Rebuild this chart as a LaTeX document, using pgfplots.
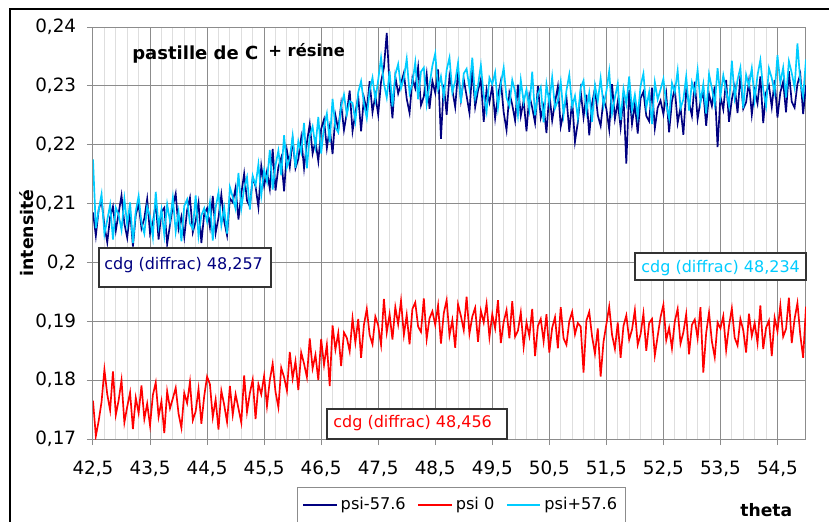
\documentclass[border=0pt]{standalone}
\usepackage{pgfplots}
\usepackage{pgfplotstable}
\pgfplotsset{compat=1.18}
\usepackage{fontspec}
\setmainfont{DejaVu Sans}

\definecolor{navyc}{HTML}{000080}
\definecolor{cyanc}{HTML}{00CCFF}
\definecolor{redc}{HTML}{FF0000}
\definecolor{gridmaj}{RGB}{140,140,140}
\definecolor{gridmin}{RGB}{222,222,222}

% theta, psi-57.6, psi 0, psi+57.6
\pgfplotstableread{
x navy red cyan
42.50 0.2085 0.1765 0.2175
42.55 0.2045 0.1705 0.2058
42.60 0.2090 0.1731 0.2089
42.65 0.2105 0.1763 0.2116
42.70 0.2063 0.1818 0.2048
42.75 0.2034 0.1776 0.2072
42.80 0.2077 0.1749 0.2098
42.85 0.2095 0.1815 0.2039
42.90 0.2054 0.1741 0.2093
42.95 0.2084 0.1766 0.2081
43.00 0.2114 0.1800 0.2055
43.05 0.2066 0.1728 0.2108
43.10 0.2042 0.1755 0.2064
43.15 0.2087 0.1779 0.2102
43.20 0.2027 0.1717 0.2033
43.25 0.2081 0.1770 0.2087
43.30 0.2099 0.1744 0.2113
43.35 0.2058 0.1791 0.2067
43.40 0.2075 0.1734 0.2049
43.45 0.2108 0.1760 0.2095
43.50 0.2049 0.1723 0.2078
43.55 0.2067 0.1775 0.2043
43.60 0.2102 0.1796 0.2120
43.65 0.2039 0.1738 0.2061
43.70 0.2086 0.1764 0.2090
43.75 0.2093 0.1710 0.2046
43.80 0.2031 0.1781 0.2099
43.85 0.2064 0.1752 0.2070
43.90 0.2096 0.1769 0.2110
43.95 0.2117 0.1787 0.2052
44.00 0.2057 0.1743 0.2086
44.05 0.2078 0.1719 0.2036
44.10 0.2043 0.1778 0.2096
44.15 0.2089 0.1761 0.2107
44.20 0.2110 0.1797 0.2066
44.25 0.2051 0.1732 0.2057
44.30 0.2070 0.1747 0.2114
44.35 0.2101 0.1785 0.2045
44.40 0.2033 0.1726 0.2080
44.45 0.2083 0.1773 0.2092
44.50 0.2092 0.1806 0.2069
44.55 0.2060 0.1793 0.2102
44.60 0.2113 0.1737 0.2037
44.65 0.2050 0.1767 0.2093
44.70 0.2076 0.1716 0.2119
44.75 0.2115 0.1782 0.2063
44.80 0.2070 0.1758 0.2093
44.85 0.2046 0.1729 0.2049
44.90 0.2109 0.1790 0.2128
44.95 0.2102 0.1741 0.2111
45.00 0.2127 0.1776 0.2091
45.05 0.2073 0.1752 0.2152
45.10 0.2117 0.1728 0.2092
45.15 0.2151 0.1808 0.2126
45.20 0.2105 0.1746 0.2145
45.25 0.2095 0.1778 0.2090
45.30 0.2144 0.1801 0.2147
45.35 0.2129 0.1734 0.2131
45.40 0.2094 0.1793 0.2167
45.45 0.2164 0.1776 0.2114
45.50 0.2130 0.1807 0.2157
45.55 0.2155 0.1756 0.2137
45.60 0.2125 0.1800 0.2191
45.65 0.2193 0.1828 0.2124
45.70 0.2122 0.1780 0.2165
45.75 0.2162 0.1754 0.2190
45.80 0.2178 0.1821 0.2148
45.85 0.2121 0.1805 0.2216
45.90 0.2190 0.1782 0.2162
45.95 0.2162 0.1848 0.2177
46.00 0.2209 0.1803 0.2215
46.05 0.2160 0.1832 0.2161
46.10 0.2176 0.1783 0.2206
46.15 0.2212 0.1847 0.2187
46.20 0.2160 0.1828 0.2237
46.25 0.2204 0.1805 0.2160
46.30 0.2235 0.1871 0.2215
46.35 0.2185 0.1820 0.2231
46.40 0.2206 0.1843 0.2197
46.45 0.2172 0.1800 0.2247
46.50 0.2227 0.1870 0.2185
46.55 0.2243 0.1826 0.2231
46.60 0.2194 0.1860 0.2253
46.65 0.2229 0.1790 0.2204
46.70 0.2184 0.1893 0.2278
46.75 0.2250 0.1852 0.2229
46.80 0.2226 0.1880 0.2221
46.85 0.2269 0.1824 0.2265
46.90 0.2225 0.1881 0.2285
46.95 0.2254 0.1872 0.2251
47.00 0.2292 0.1849 0.2274
47.05 0.2223 0.1905 0.2271
47.10 0.2254 0.1864 0.2240
47.15 0.2282 0.1904 0.2289
47.20 0.2223 0.1838 0.2308
47.25 0.2280 0.1894 0.2270
47.30 0.2258 0.1921 0.2245
47.35 0.2308 0.1877 0.2292
47.40 0.2255 0.1861 0.2314
47.45 0.2284 0.1908 0.2276
47.50 0.2251 0.1893 0.2310
47.55 0.2307 0.1860 0.2348
47.60 0.2331 0.1938 0.2304
47.65 0.2390 0.1881 0.2280
47.70 0.2299 0.1912 0.2325
47.75 0.2245 0.1869 0.2265
47.80 0.2316 0.1924 0.2319
47.85 0.2287 0.1895 0.2337
47.90 0.2304 0.1935 0.2296
47.95 0.2322 0.1877 0.2313
48.00 0.2278 0.1911 0.2346
48.05 0.2254 0.1861 0.2287
48.10 0.2313 0.1921 0.2305
48.15 0.2296 0.1932 0.2340
48.20 0.2332 0.1891 0.2277
48.25 0.2267 0.1882 0.2324
48.30 0.2282 0.1939 0.2331
48.35 0.2320 0.1870 0.2269
48.40 0.2261 0.1905 0.2302
48.45 0.2308 0.1917 0.2334
48.50 0.2288 0.1894 0.2355
48.55 0.2328 0.1927 0.2295
48.60 0.2210 0.1862 0.2316
48.65 0.2302 0.1914 0.2281
48.70 0.2251 0.1936 0.2327
48.75 0.2317 0.1876 0.2348
48.80 0.2293 0.1902 0.2289
48.85 0.2264 0.1855 0.2308
48.90 0.2325 0.1929 0.2339
48.95 0.2276 0.1909 0.2271
49.00 0.2311 0.1885 0.2321
49.05 0.2283 0.1942 0.2329
49.10 0.2254 0.1879 0.2296
49.15 0.2330 0.1908 0.2348
49.20 0.2264 0.1923 0.2279
49.25 0.2292 0.1865 0.2301
49.30 0.2311 0.1918 0.2335
49.35 0.2239 0.1898 0.2284
49.40 0.2294 0.1930 0.2256
49.45 0.2272 0.1873 0.2314
49.50 0.2300 0.1912 0.2303
49.55 0.2245 0.1888 0.2323
49.60 0.2284 0.1936 0.2263
49.65 0.2308 0.1863 0.2303
49.70 0.2255 0.1899 0.2331
49.75 0.2225 0.1919 0.2280
49.80 0.2288 0.1871 0.2266
49.85 0.2268 0.1934 0.2310
49.90 0.2241 0.1874 0.2290
49.95 0.2302 0.1884 0.2250
50.00 0.2249 0.1915 0.2310
50.05 0.2275 0.1857 0.2272
50.10 0.2223 0.1898 0.2294
50.15 0.2284 0.1875 0.2260
50.20 0.2263 0.1921 0.2324
50.25 0.2237 0.1841 0.2250
50.30 0.2300 0.1892 0.2286
50.35 0.2246 0.1904 0.2298
50.40 0.2266 0.1866 0.2238
50.45 0.2220 0.1912 0.2303
50.50 0.2288 0.1847 0.2271
50.55 0.2241 0.1889 0.2315
50.60 0.2272 0.1907 0.2262
50.65 0.2299 0.1854 0.2275
50.70 0.2231 0.1924 0.2307
50.75 0.2255 0.1871 0.2251
50.80 0.2281 0.1860 0.2292
50.85 0.2222 0.1900 0.2319
50.90 0.2276 0.1916 0.2265
50.95 0.2205 0.1878 0.2283
51.00 0.2238 0.1897 0.2245
51.05 0.2291 0.1891 0.2297
51.10 0.2247 0.1813 0.2309
51.15 0.2285 0.1901 0.2256
51.20 0.2216 0.1916 0.2288
51.25 0.2270 0.1874 0.2239
51.30 0.2296 0.1845 0.2301
51.35 0.2250 0.1888 0.2274
51.40 0.2232 0.1806 0.2313
51.45 0.2278 0.1865 0.2266
51.50 0.2261 0.1895 0.2291
51.55 0.2226 0.1925 0.2325
51.60 0.2303 0.1877 0.2253
51.65 0.2244 0.1853 0.2280
51.70 0.2273 0.1898 0.2304
51.75 0.2229 0.1838 0.2242
51.80 0.2282 0.1892 0.2295
51.85 0.2168 0.1910 0.2269
51.90 0.2293 0.1869 0.2316
51.95 0.2235 0.1886 0.2259
52.00 0.2269 0.1919 0.2285
52.05 0.2219 0.1860 0.2248
52.10 0.2279 0.1878 0.2300
52.15 0.2290 0.1913 0.2321
52.20 0.2249 0.1850 0.2263
52.25 0.2240 0.1897 0.2289
52.30 0.2297 0.1904 0.2235
52.35 0.2228 0.1842 0.2306
52.40 0.2263 0.1875 0.2277
52.45 0.2275 0.1907 0.2294
52.50 0.2252 0.1928 0.2312
52.55 0.2286 0.1868 0.2269
52.60 0.2221 0.1889 0.2245
52.65 0.2274 0.1854 0.2305
52.70 0.2296 0.1900 0.2289
52.75 0.2237 0.1921 0.2326
52.80 0.2264 0.1862 0.2262
52.85 0.2217 0.1881 0.2277
52.90 0.2292 0.1912 0.2316
52.95 0.2272 0.1844 0.2258
53.00 0.2249 0.1894 0.2306
53.05 0.2307 0.1903 0.2287
53.10 0.2244 0.1871 0.2327
53.15 0.2274 0.1924 0.2272
53.20 0.2289 0.1813 0.2303
53.25 0.2232 0.1880 0.2253
53.30 0.2286 0.1915 0.2320
53.35 0.2266 0.1866 0.2296
53.40 0.2299 0.1839 0.2268
53.45 0.2196 0.1898 0.2330
53.50 0.2282 0.1888 0.2282
53.55 0.2260 0.1909 0.2318
53.60 0.2310 0.1851 0.2292
53.65 0.2239 0.1892 0.2266
53.70 0.2277 0.1922 0.2343
53.75 0.2299 0.1872 0.2280
53.80 0.2254 0.1859 0.2310
53.85 0.2318 0.1904 0.2331
53.90 0.2261 0.1885 0.2262
53.95 0.2272 0.1847 0.2319
54.00 0.2308 0.1913 0.2300
54.05 0.2251 0.1875 0.2330
54.10 0.2292 0.1897 0.2276
54.15 0.2270 0.1863 0.2318
54.20 0.2316 0.1927 0.2344
54.25 0.2237 0.1853 0.2294
54.30 0.2289 0.1889 0.2266
54.35 0.2301 0.1901 0.2330
54.40 0.2264 0.1841 0.2313
54.45 0.2310 0.1906 0.2288
54.50 0.2246 0.1883 0.2352
54.55 0.2289 0.1927 0.2305
54.60 0.2307 0.1874 0.2331
54.65 0.2255 0.1887 0.2280
54.70 0.2325 0.1940 0.2342
54.75 0.2273 0.1863 0.2322
54.80 0.2263 0.1904 0.2297
54.85 0.2303 0.1931 0.2372
54.90 0.2320 0.1877 0.2307
54.95 0.2252 0.1838 0.2282
55.00 0.2301 0.1925 0.2345
}\datatable

\begin{document}
\begin{tikzpicture}[x=0.6pt,y=0.6pt]
\useasboundingbox (0,0) rectangle (829,521);
% outer chart frame (cut by the picture edge on the right and bottom)
\draw[line width=1pt] (10,-20) -- (10,512) -- (850,512);

\begin{axis}[
  at={(55.8pt,49.2pt)}, anchor=south west,
  scale only axis, width=427.8pt, height=247.2pt,
  xmin=42.5, xmax=55, ymin=0.17, ymax=0.24,
  xtick={42.5,43.5,44.5,45.5,46.5,47.5,48.5,49.5,50.5,51.5,52.5,53.5,54.5},
  minor x tick num=4,
  ytick={0.17,0.18,0.19,0.2,0.21,0.22,0.23,0.24},
  xmajorgrids, ymajorgrids, xminorgrids,
  major grid style={draw=gridmaj, line width=0.6pt},
  minor grid style={draw=gridmin, line width=0.6pt},
  axis line style={draw=gridmaj, line width=0.6pt},
  tick align=outside, major tick length=3.6pt, minor tick length=0pt,
  tick style={draw=gridmaj, line width=0.6pt},
  xtick pos=left, ytick pos=left,
  /pgf/number format/.cd, use comma, assume math mode=true, /pgfplots/.cd,
  ticklabel style={font=\fontsize{11}{13}\selectfont},
  yticklabel style={xshift=-3pt},
  xticklabel style={yshift=-6pt},
  legend columns=3,
  legend image code/.code={\draw[#1] (0pt,0pt) -- (20pt,0pt);},
  legend style={at={(0.286,-0.1165)}, anchor=north west, draw=gridmaj,
    line width=0.6pt, font=\fontsize{9.7}{11}\selectfont,
    inner xsep=3pt, inner ysep=4pt,
    /tikz/every even column/.append style={column sep=5pt}},
]
\addplot[navyc, line width=1pt] table[x=x, y=navy] {\datatable};
\addlegendentry{psi-57.6}
\addplot[redc, line width=1pt] table[x=x, y=red] {\datatable};
\addlegendentry{psi 0}
\addplot[cyanc, line width=1pt] table[x=x, y=cyan] {\datatable};
\addlegendentry{psi+57.6}
\end{axis}

% title
\node[anchor=base west, inner sep=0pt, font=\bfseries\fontsize{10.8}{13}\selectfont] at (132,462) {pastille de C};
\node[anchor=base west, inner sep=0pt, font=\bfseries\fontsize{9.8}{11}\selectfont] at (268,465) {+ résine};
% axis titles
\node[rotate=90, anchor=base, inner sep=0pt, font=\bfseries\fontsize{10.4}{12}\selectfont] at (34,288) {intensité};
\node[anchor=base west, inner sep=0pt, font=\bfseries\fontsize{10.3}{12}\selectfont] at (740,5) {theta};

% labels cdg
\draw[line width=1.1pt, draw=black!80, fill=white] (99,273) rectangle (271,234);
\node[anchor=base west, inner sep=0pt, text=navyc, font=\fontsize{9.6}{11}\selectfont] at (104,252) {cdg (diffrac) 48,257};
\draw[line width=1.1pt, draw=black!80, fill=white] (635,268) rectangle (806,241);
\node[anchor=base west, inner sep=0pt, text=cyanc, font=\fontsize{9.6}{11}\selectfont] at (641,249) {cdg (diffrac) 48,234};
\draw[line width=1.1pt, draw=black!80, fill=white] (327,112) rectangle (507,82);
\node[anchor=base west, inner sep=0pt, text=redc, font=\fontsize{9.6}{11}\selectfont] at (333,94) {cdg (diffrac) 48,456};
\end{tikzpicture}
\end{document}
